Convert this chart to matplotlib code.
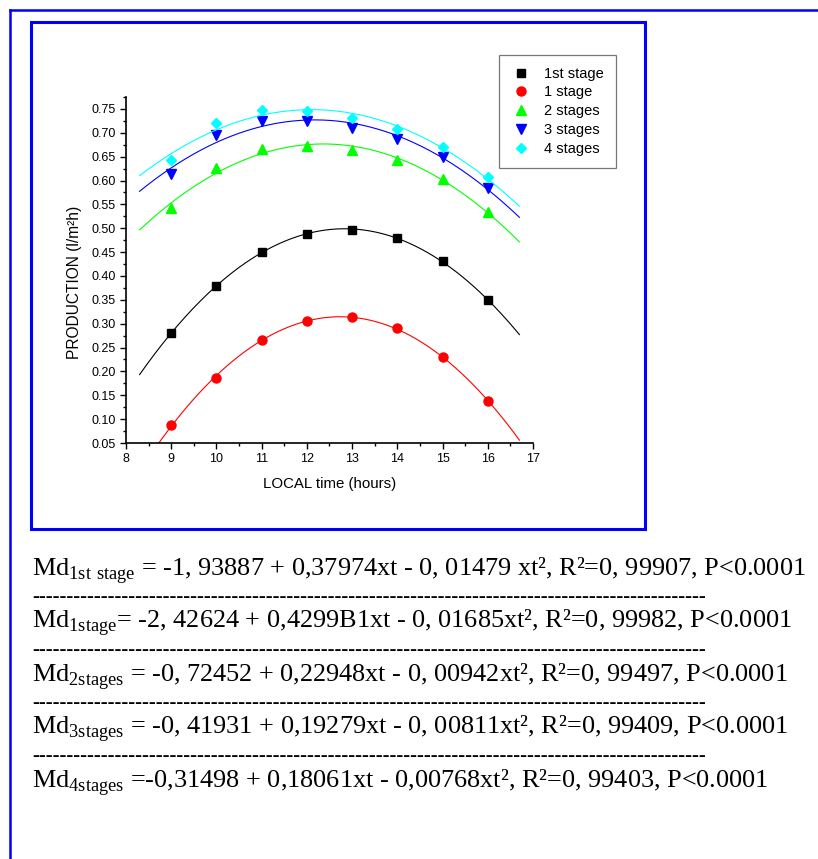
import numpy as np
import matplotlib
matplotlib.use("Agg")
import matplotlib.pyplot as plt
from matplotlib.lines import Line2D
from matplotlib.patches import Rectangle
from matplotlib.ticker import MultipleLocator, FormatStrFormatter

plt.rcParams["font.family"] = ["Liberation Sans", "DejaVu Sans"]
plt.rcParams["mathtext.fontset"] = "custom"
plt.rcParams["mathtext.rm"] = "Liberation Serif"

# ---- data ----
hours = [9, 10, 11, 12, 13, 14, 15, 16]
first_stage = [0.280, 0.380, 0.450, 0.487, 0.497, 0.480, 0.431, 0.349]
one_stage = [0.088, 0.187, 0.265, 0.306, 0.313, 0.291, 0.230, 0.138]
two_stages = [0.543, 0.627, 0.665, 0.673, 0.664, 0.643, 0.603, 0.535]
three_stages = [0.613, 0.695, 0.724, 0.725, 0.709, 0.688, 0.650, 0.585]
four_stages = [0.643, 0.721, 0.748, 0.746, 0.731, 0.707, 0.671, 0.607]

labels = ["1st stage", "1 stage", "2 stages", "3 stages", "4 stages"]
colors = ["black", "red", "#00ff00", "blue", "cyan"]
markers = ["s", "o", "^", "v", "D"]
msizes = [5.5, 6.5, 6.5, 6.5, 5.5]

# regression text under the chart
eq_sub = ["1st\\ stage", "1stage", "2stages", "3stages", "4stages"]
eq_rest = [
    " = -1, 93887 + 0,37974xt - 0, 01479 xt², R²=0, 99907, P<0.0001",
    "= -2, 42624 + 0,4299B1xt - 0, 01685xt², R²=0, 99982, P<0.0001",
    " = -0, 72452 + 0,22948xt - 0, 00942xt², R²=0, 99497, P<0.0001",
    " = -0, 41931 + 0,19279xt - 0, 00811xt², R²=0, 99409, P<0.0001",
    " =-0,31498 + 0,18061xt - 0,00768xt², R²=0, 99403, P<0.0001",
]

W, H = 818, 859
fig = plt.figure(figsize=(W / 100, H / 100), dpi=100)

def fx(px):
    return px / W

def fy(py):
    return 1 - py / H

# blue frames
fig.add_artist(Line2D([fx(9.5), fx(818)], [fy(10), fy(10)], color="blue", lw=1.8))
fig.add_artist(Line2D([fx(9.5), fx(9.5)], [fy(10), fy(859)], color="blue", lw=1.8))
fig.add_artist(Rectangle((fx(31.5), fy(528.5)), fx(644.5) - fx(31.5), fy(22.5) - fy(528.5),
                         fill=False, edgecolor="blue", lw=2.2))

ax = fig.add_axes([fx(126), fy(443), fx(533) - fx(126), fy(97) - fy(443)])

series = [first_stage, one_stage, two_stages, three_stages, four_stages]
xs = np.linspace(8.3, 16.7, 200)
for ys, lab, c, m, s in zip(series, labels, colors, markers, msizes):
    coef = np.polyfit(hours, ys, 2)
    ax.plot(xs, np.polyval(coef, xs), color=c, lw=0.8)
    ax.plot(hours, ys, linestyle="none", marker=m, color=c, markersize=s, label=lab)

ax.set_xlim(8, 17)
ax.set_ylim(0.05, 0.775)
ax.xaxis.set_major_locator(MultipleLocator(1))
ax.xaxis.set_minor_locator(MultipleLocator(0.5))
ax.yaxis.set_major_locator(MultipleLocator(0.05))
ax.yaxis.set_minor_locator(MultipleLocator(0.025))
ax.yaxis.set_major_formatter(FormatStrFormatter("%.2f"))
ax.spines["top"].set_visible(False)
ax.spines["right"].set_visible(False)
for sp in ["left", "bottom"]:
    ax.spines[sp].set_linewidth(1.2)
ax.tick_params(which="major", direction="out", length=4, width=1, labelsize=9, pad=3.5)
ax.tick_params(which="minor", direction="out", length=2.5, width=1)
ax.set_xlabel("LOCAL time (hours)", fontsize=10.8, labelpad=8)
ax.set_ylabel("PRODUCTION (l/m²h)", fontsize=11.2)
ax.yaxis.set_label_coords(-0.108, 0.464)

leg = ax.legend(loc="upper left", bbox_to_anchor=(fx(499), fy(55)), bbox_transform=fig.transFigure,
                fontsize=10.5, frameon=True, fancybox=False, borderaxespad=0, borderpad=0.8,
                handlelength=1.4, handletextpad=0.9, labelspacing=0.33)
leg.get_frame().set_edgecolor("#555555")
leg.get_frame().set_linewidth(0.9)

# equations
baselines = [575, 628, 681, 734, 787]
for sub, rest, yb in zip(eq_sub, eq_rest, baselines):
    fig.text(fx(32), fy(yb), "Md$_{\\mathrm{" + sub + "}}$" + rest, fontsize=18.9,
             family="Liberation Serif", va="baseline", ha="left")
for yb in baselines[:-1]:
    fig.text(fx(32), fy(yb + 27), "-" * 98, fontsize=15, family="Liberation Serif",
             va="baseline", ha="left")

fig.savefig("out.png", dpi=100)
